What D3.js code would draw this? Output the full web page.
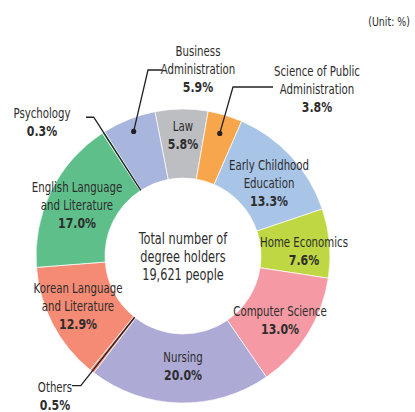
<!DOCTYPE html>
<html>
<head>
<meta charset="utf-8">
<script src="https://cdn.jsdelivr.net/npm/d3@7"></script>
<style>
  body { margin: 0; background: #fff; }
  svg text { font-family: "DejaVu Sans Condensed", "DejaVu Sans", sans-serif; fill: #2d2d2d; }
</style>
</head>
<body>
<div id="chart"></div>
<script>
// data, clockwise from the Law slice
var majors = ["Law", "Science of Public Administration", "Early Childhood Education", "Home Economics",
              "Computer Science", "Nursing", "Others", "Korean Language and Literature",
              "English Language and Literature", "Psychology", "Business Administration"];
var shares = [5.8, 3.8, 13.3, 7.6, 13.0, 20.0, 0.5, 12.9, 17.0, 0.3, 5.9];
var colors = ["#bdbec1", "#f7a64b", "#a8c4e6", "#bed742", "#f59aa4", "#aeaad6",
              "#f58b74", "#f58b74", "#5fbf8a", "#5fbf8a", "#a8b5dc"];
var totalLines = ["Total number of", "degree holders", "19,621 people"];

var width = 415, height = 412;
var cx = 183, cy = 256, rIn = 78, rOut = 147;
var squeeze = 0.84;

var svg = d3.select("#chart").append("svg")
    .attr("width", width)
    .attr("height", height);

var startA = -11 * Math.PI / 180;
var pie = d3.pie().sort(null).startAngle(startA).endAngle(startA + 2 * Math.PI);
var arcs = pie(shares);
var arc = d3.arc().innerRadius(rIn).outerRadius(rOut);

var g = svg.append("g").attr("transform", "translate(" + cx + "," + cy + ")");

g.selectAll("path.slice")
    .data(arcs)
    .enter()
    .append("path")
    .attr("class", "slice")
    .attr("d", arc)
    .attr("fill", function(d, i) { return colors[i]; })
    .attr("stroke", "#fff")
    .attr("stroke-width", 0.7);

// label layout (centre x, first line y, lines)
var labels = {
    "Law": {x: 183, y: 131, lines: ["Law"]},
    "Early Childhood Education": {x: 269, y: 170, lines: ["Early Childhood", "Education"]},
    "Home Economics": {x: 304, y: 247, lines: ["Home Economics"]},
    "Computer Science": {x: 280, y: 316, lines: ["Computer Science"]},
    "Nursing": {x: 183, y: 362, lines: ["Nursing"]},
    "Korean Language and Literature": {x: 78, y: 293, lines: ["Korean Language", "and Literature"]},
    "English Language and Literature": {x: 77, y: 192, lines: ["English Language", "and Literature"]},
    "Business Administration": {x: 198, y: 56, lines: ["Business", "Administration"]},
    "Science of Public Administration": {x: 317, y: 76, lines: ["Science of Public", "Administration"]},
    "Psychology": {x: 42, y: 118, lines: ["Psychology"]},
    "Others": {x: 55, y: 392, lines: ["Others"]}
};

// narrow text: squeeze horizontally around the label centre
function narrowText(x, y) {
    return svg.append("g")
        .attr("transform", "translate(" + x + "," + y + ") scale(" + squeeze + ",1)")
        .append("text")
        .attr("text-anchor", "middle");
}

majors.forEach(function(m, i) {
    var L = labels[m];
    var t = narrowText(L.x, L.y);
    L.lines.forEach(function(line, k) {
        t.append("tspan")
            .attr("x", 0)
            .attr("dy", k == 0 ? 0 : 18)
            .style("font-size", "13.5px")
            .text(line);
    });
    t.append("tspan")
        .attr("x", 0)
        .attr("dy", 18)
        .style("font-size", "14.5px")
        .style("font-weight", "bold")
        .text(shares[i].toFixed(1) + "%");
});

// leader lines
function polar(a, r) {
    return [cx + r * Math.sin(a), cy - r * Math.cos(a)];
}
function mid(d) { return (d.startAngle + d.endAngle) / 2; }

var lineColor = "#222";
var leaders = svg.append("g")
    .attr("fill", "none")
    .attr("stroke", lineColor)
    .attr("stroke-width", 1.3);

// thin slices: radial line through the ring, then a short horizontal
[[majors.indexOf("Psychology"), 86], [majors.indexOf("Others"), 72]].forEach(function(p) {
    var d = arcs[p[0]];
    var a = mid(d);
    var p1 = polar(a, rIn), p2 = polar(a, 165);
    leaders.append("path").attr("d", d3.line()([p1, p2, [p[1], p2[1]]]));
});

// outside labels with a dot in the slice
[[majors.indexOf("Business Administration"), 134, [148, 70], [162, 70]],
 [majors.indexOf("Science of Public Administration"), 128, [233, 87], [273, 87]]].forEach(function(p) {
    var d = arcs[p[0]];
    var dot = polar(mid(d), p[1]);
    leaders.append("path").attr("d", d3.line()([dot, p[2], p[3]]));
    svg.append("circle")
        .attr("cx", dot[0]).attr("cy", dot[1]).attr("r", 2.6)
        .attr("fill", lineColor);
});

// centre text
var ct = narrowText(cx, 244).style("font-size", "15px");
totalLines.forEach(function(line, k) {
    ct.append("tspan")
        .attr("x", 0)
        .attr("dy", k == 0 ? 0 : 18)
        .text(line);
});

var unit = svg.append("g")
    .attr("transform", "translate(410,26) scale(" + squeeze + ",1)")
    .append("text")
    .attr("text-anchor", "end")
    .style("font-size", "12.5px")
    .text("(Unit: %)");
</script>
</body>
</html>
